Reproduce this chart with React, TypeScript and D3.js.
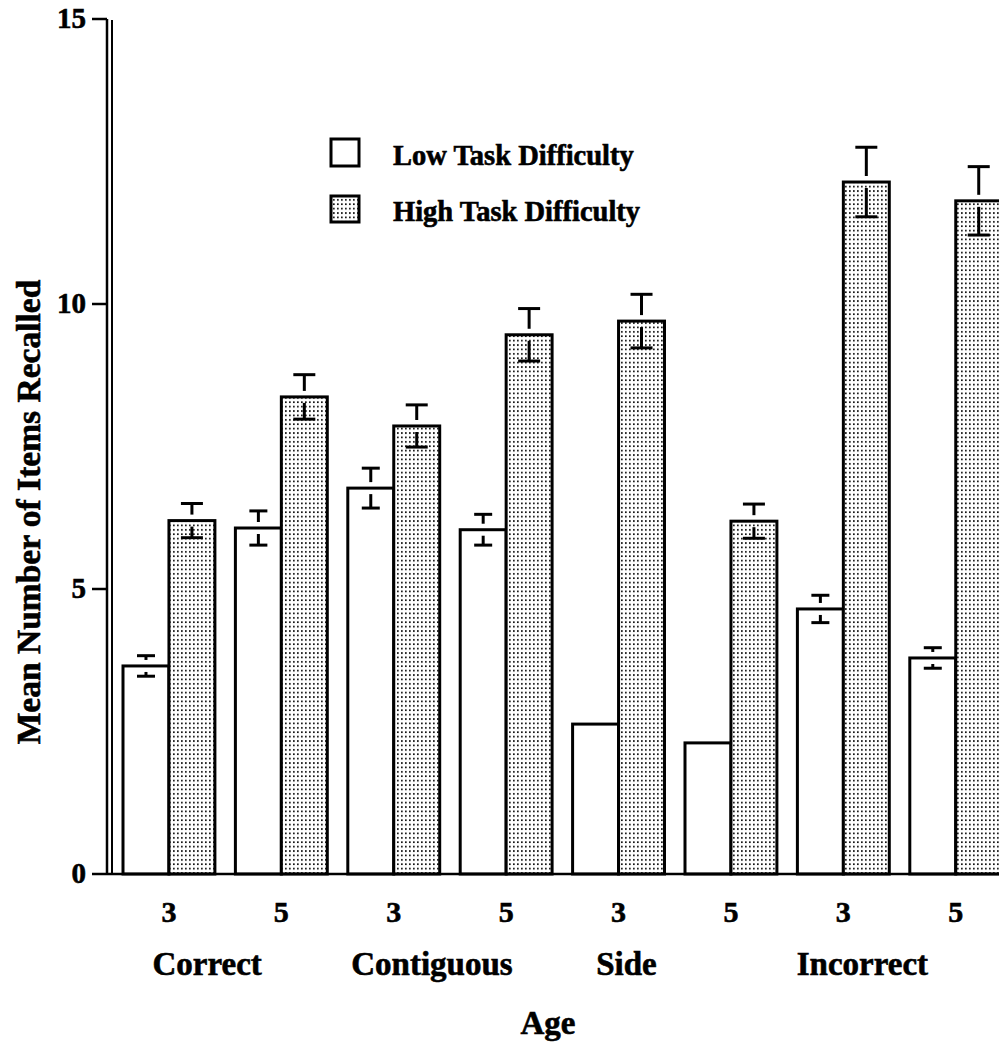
import React from "react";
import * as d3 from "d3";

// values
const pairs = ["C3", "C5", "G3", "G5", "S3", "S5", "I3", "I5"];
const ageLabels = ["3", "5", "3", "5", "3", "5", "3", "5"];
const lowValues = [3.65, 6.07, 6.77, 6.04, 2.63, 2.3, 4.65, 3.79];
const highValues = [6.2, 8.37, 7.86, 9.46, 9.7, 6.19, 12.14, 11.81];
const lowErrors = [0.18, 0.3, 0.35, 0.27, null, null, 0.24, 0.18];
const highErrors = [0.3, 0.39, 0.37, 0.46, 0.47, 0.3, 0.61, 0.6];
const categories = ["Correct", "Contiguous", "Side", "Incorrect"];
const yTicks = [0, 5, 10, 15];
const seriesNames = ["Low Task Difficulty", "High Task Difficulty"];

const W = 999;
const H = 1048;
const font = "'Liberation Serif', 'Times New Roman', serif";

export default function App() {
  const x0 = 123;
  const step = 112.4;
  const gap = 20.5;

  const y = d3.scaleLinear().domain([0, 15]).range([874, 19]);

  const xPair = d3
    .scaleBand()
    .domain(pairs)
    .range([x0, x0 + pairs.length * step - gap])
    .paddingInner(gap / step)
    .paddingOuter(0);

  const xSeries = d3
    .scaleBand()
    .domain(["low", "high"])
    .range([0, xPair.bandwidth()]);

  const axisX = 107;
  const bw = xSeries.bandwidth();

  // category label nudge, as a fraction of a pair step from the first pair's centre
  const catNudge = [0.34, 0.34, 0.07, 0.17];

  const bars = [];
  pairs.forEach((p, i) => {
    [
      { key: "low", v: lowValues[i], e: lowErrors[i] },
      { key: "high", v: highValues[i], e: highErrors[i] },
    ].forEach((d) => {
      const bx = xPair(p) + xSeries(d.key);
      bars.push({ ...d, pair: p, i, bx });
    });
  });

  const errBar = (d) => {
    if (d.e == null) return null;
    const cx = d.bx + bw / 2;
    const yt = y(d.v);
    const yu = y(d.v + d.e);
    const yl = y(d.v - d.e);
    const ePx = yl - yt;
    const stem = Math.max(ePx - 6, 2.5);
    const cap = d.key === "high" ? 11 : 9;
    return (
      <g key={"e" + d.pair + d.key} stroke="#000" strokeWidth={3}>
        <line x1={cx - cap} x2={cx + cap} y1={yu} y2={yu} />
        <line x1={cx} x2={cx} y1={yu} y2={yu + stem} />
        <line x1={cx - cap} x2={cx + cap} y1={yl} y2={yl} />
        <line x1={cx} x2={cx} y1={yl} y2={yl - stem} />
      </g>
    );
  };

  const textStyle = { stroke: "#000", strokeWidth: 0.6 };

  return (
    <svg
      width={W}
      height={H}
      style={{ position: "absolute", left: 0, top: 0, background: "#fff" }}
      fontFamily={font}
      fontWeight="bold"
    >
      <defs>
        <pattern id="dots" width={4} height={4.4} patternUnits="userSpaceOnUse">
          <rect width={4} height={4.4} fill="#fff" />
          <rect x={1} y={1} width={1.7} height={1.7} fill="#111" />
        </pattern>
      </defs>
      <rect width={W} height={H} fill="#fff" />

      {/* bars */}
      {bars.map((d) => (
        <rect
          key={d.pair + d.key}
          x={d.bx}
          y={y(d.v)}
          width={bw}
          height={y(0) - y(d.v)}
          fill={d.key === "high" ? "url(#dots)" : "#fff"}
          stroke="#000"
          strokeWidth={3}
        />
      ))}
      {bars.map(errBar)}

      {/* axes */}
      <line x1={axisX} x2={axisX} y1={y(15)} y2={y(0)} stroke="#000" strokeWidth={2.5} />
      <line x1={axisX + 5} x2={axisX + 5} y1={y(15) + 1} y2={y(0)} stroke="#000" strokeWidth={2} />
      <line x1={axisX} x2={W} y1={y(0)} y2={y(0)} stroke="#000" strokeWidth={2.5} />
      {yTicks.map((t) => (
        <g key={"t" + t}>
          <line x1={92} x2={axisX} y1={y(t)} y2={y(t)} stroke="#000" strokeWidth={2.5} />
          <text x={86} y={y(t) + 9} textAnchor="end" fontSize={29} style={textStyle}>
            {t}
          </text>
        </g>
      ))}

      {/* x labels */}
      {pairs.map((p, i) => (
        <text
          key={"a" + p}
          x={xPair(p) + xPair.bandwidth() / 2}
          y={922}
          textAnchor="middle"
          fontSize={30}
          style={textStyle}
        >
          {ageLabels[i]}
        </text>
      ))}
      {categories.map((c, i) => (
        <text
          key={c}
          x={xPair(pairs[i * 2]) + xPair.bandwidth() / 2 + catNudge[i] * step}
          y={975}
          textAnchor="middle"
          fontSize={33}
          style={textStyle}
        >
          {c}
        </text>
      ))}
      <text x={548} y={1034} textAnchor="middle" fontSize={33} style={textStyle}>
        Age
      </text>
      <text
        transform="translate(40,512) rotate(-90)"
        textAnchor="middle"
        fontSize={33.5}
        style={textStyle}
      >
        Mean Number of Items Recalled
      </text>

      {/* legend */}
      <rect x={331} y={139} width={28} height={27} fill="#fff" stroke="#000" strokeWidth={3} />
      <rect x={331} y={196} width={28} height={26} fill="url(#dots)" stroke="#000" strokeWidth={3} />
      <text x={393} y={165} fontSize={28.5} style={textStyle}>
        {seriesNames[0]}
      </text>
      <text x={393} y={221} fontSize={28.5} style={textStyle}>
        {seriesNames[1]}
      </text>
    </svg>
  );
}
